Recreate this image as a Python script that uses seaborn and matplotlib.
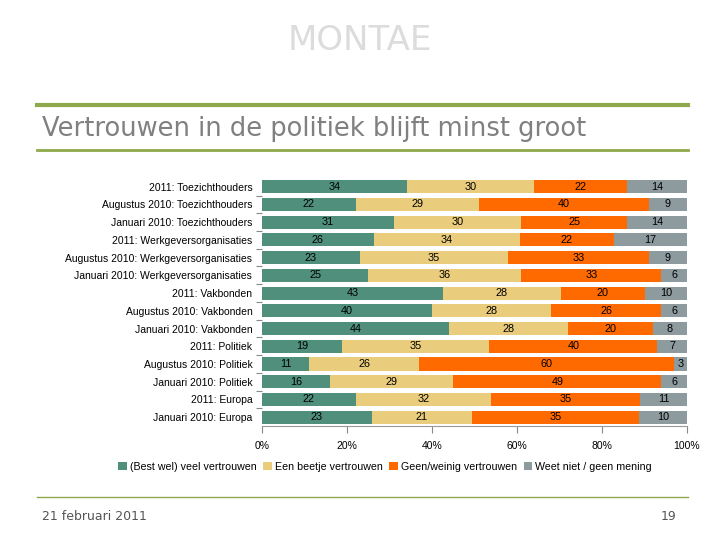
import numpy as np
import pandas as pd
import matplotlib
matplotlib.use('Agg')
import matplotlib.pyplot as plt
import seaborn as sns
from matplotlib.lines import Line2D
from matplotlib.patches import Patch

categories = [
    '2011: Toezichthouders',
    'Augustus 2010: Toezichthouders',
    'Januari 2010: Toezichthouders',
    '2011: Werkgeversorganisaties',
    'Augustus 2010: Werkgeversorganisaties',
    'Januari 2010: Werkgeversorganisaties',
    '2011: Vakbonden',
    'Augustus 2010: Vakbonden',
    'Januari 2010: Vakbonden',
    '2011: Politiek',
    'Augustus 2010: Politiek',
    'Januari 2010: Politiek',
    '2011: Europa',
    'Januari 2010: Europa',
]
veel = [34, 22, 31, 26, 23, 25, 43, 40, 44, 19, 11, 16, 22, 23]
beetje = [30, 29, 30, 34, 35, 36, 28, 28, 28, 35, 26, 29, 32, 21]
weinig = [22, 40, 25, 22, 33, 33, 20, 26, 20, 40, 60, 49, 35, 35]
weet_niet = [14, 9, 14, 17, 9, 6, 10, 6, 8, 7, 3, 6, 11, 10]

series_names = ['(Best wel) veel vertrouwen', 'Een beetje vertrouwen',
                'Geen/weinig vertrouwen', 'Weet niet / geen mening']
colors = ['#4f8f7b', '#e9cc7c', '#ff6a00', '#8d9a9e']
tick_vals = [0, 0.2, 0.4, 0.6, 0.8, 1.0]
tick_labels = ['0%', '20%', '40%', '60%', '80%', '100%']

df = pd.DataFrame({'cat': categories, series_names[0]: veel, series_names[1]: beetje,
                   series_names[2]: weinig, series_names[3]: weet_niet})
vals = df[series_names].astype(float)
shares = vals.div(vals.sum(axis=1), axis=0)   # 100% stacked like excel
cum = shares.cumsum(axis=1)

fig = plt.figure(figsize=(7.2, 5.4), dpi=100)
ax = fig.add_axes([0.364, 0.211, 0.59, 0.463])

# draw from the back: longest cumulative bar first
for i in range(3, -1, -1):
    sns.barplot(x=cum[series_names[i]], y=df['cat'], order=categories, orient='h',
                color=colors[i], saturation=1, width=0.74, ax=ax)

for r in range(len(categories)):
    left = 0.0
    for i, name in enumerate(series_names):
        w = shares.loc[r, name]
        ax.text(left + w / 2, r, str(int(vals.loc[r, name])), ha='center', va='center',
                fontsize=7.8, family='Liberation Sans', color='black')
        left += w

ax.set_xlim(0, 1)
ax.set_ylim(len(categories) - 0.5, -0.6)
ax.set_xticks(tick_vals)
ax.set_xticklabels(tick_labels, fontsize=7.5, family='Liberation Sans')
ax.set_yticks(range(len(categories)))
ax.set_yticklabels(categories, fontsize=7.5, family='Liberation Sans')
ax.set_xlabel('')
ax.set_ylabel('')
ax.tick_params(axis='y', length=0, pad=7)
ax.tick_params(axis='x', length=5, color='#888888', pad=6, direction='out')
ax.set_yticks(np.arange(0.5, len(categories) - 1, 1), minor=True)
ax.tick_params(axis='y', which='minor', length=4, color='#888888', width=0.8)
for s in ['top', 'right', 'left']:
    ax.spines[s].set_visible(False)
ax.spines['bottom'].set_color('#999999')
ax.spines['bottom'].set_linewidth(0.8)

handles = [Patch(facecolor=c, edgecolor='none') for c in colors]
fig.legend(handles, series_names, loc='center', bbox_to_anchor=(0.535, 0.135), ncol=4,
           frameon=False, prop={'family': 'Liberation Sans', 'size': 7.7},
           handlelength=0.8, handleheight=0.8, handletextpad=0.3, columnspacing=0.6)

# slide decoration
fig.text(0.5, 0.925, 'MONTAE', ha='center', va='center', fontsize=24.5, color='#dcdcdc',
         family='DejaVu Sans')
green = '#8ea84b'
fig.add_artist(Line2D([0.051, 0.956], [0.806, 0.806], color=green, lw=3))
fig.add_artist(Line2D([0.051, 0.956], [0.722, 0.722], color=green, lw=2))
fig.text(0.058, 0.762, 'Vertrouwen in de politiek blijft minst groot', ha='left', va='center',
         fontsize=18.5, color='#808080', family='DejaVu Sans')
fig.add_artist(Line2D([0.051, 0.956], [0.080, 0.080], color=green, lw=1))
fig.text(0.058, 0.044, '21 februari 2011', ha='left', va='center', fontsize=9,
         color='#555555', family='DejaVu Sans')
fig.text(0.94, 0.044, '19', ha='right', va='center', fontsize=9,
         color='#555555', family='DejaVu Sans')

fig.savefig('out.png', dpi=100)
